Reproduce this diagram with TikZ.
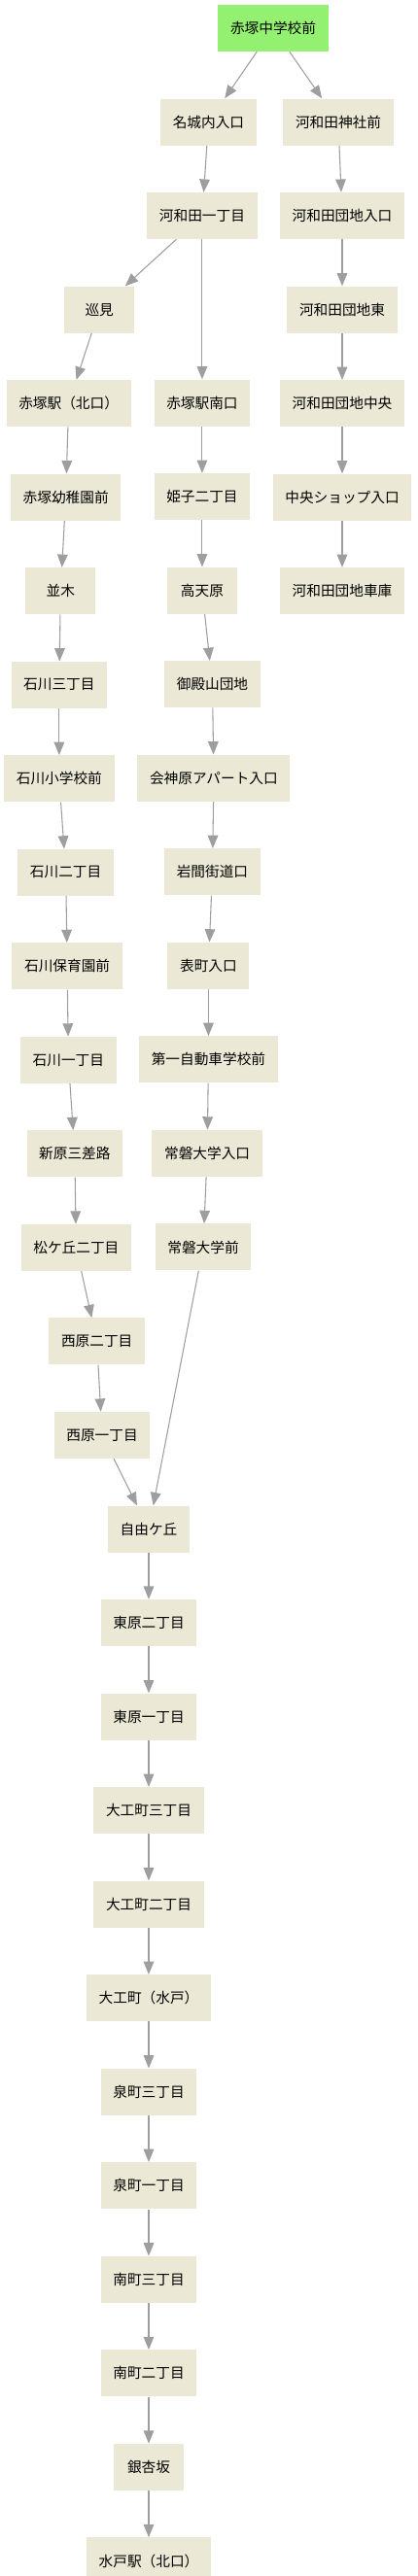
\documentclass[tikz,border=0pt]{standalone}
\usepackage{fontspec}
\newfontfamily\cjk{Noto Sans CJK JP}
\usepackage{xcolor}
\usepackage{tikz}
\usetikzlibrary{arrows.meta,positioning}
\definecolor{stopfill}{RGB}{235,233,213}
\definecolor{startfill}{RGB}{148,240,112}
\definecolor{edgegray}{RGB}{158,158,158}

\begin{document}
\begin{tikzpicture}[
  node distance=36pt,
  busstop/.style={fill=stopfill, minimum height=36pt, minimum width=54pt,
    inner xsep=9.5pt, font=\cjk\fontsize{11}{13}\selectfont},
  origin/.style={busstop, fill=startfill},
  arrow/.style={-{Triangle[length=10pt,width=8pt]}, draw=edgegray, line width=0.8pt}
]
\useasboundingbox (0,0) rectangle (321.75pt,-1988.25pt);
\node[origin] (akatsukachu) at (210.75pt,-21.75pt) {赤塚中学校前};
\node[busstop, below=of akatsukachu, xshift=-49.9pt] (meijyo) {名城内入口};
\node[busstop, below=of akatsukachu, xshift=50.25pt] (jinja) {河和田神社前};
\node[busstop, below=of meijyo, xshift=-4.9pt] (kawawada1) {河和田一丁目};
\node[busstop, below=of jinja, xshift=3pt] (danchiiri) {河和田団地入口};
\node[busstop, below=of kawawada1, xshift=-79.3pt] (junken) {巡見};
\node[busstop, below=of danchiiri] (danchihigashi) {河和田団地東};
\node[busstop, below=of junken, xshift=-23.7pt] (akatsukakita) {赤塚駅（北口）};
\node[busstop, below=108pt of kawawada1] (akatsukaminami) {赤塚駅南口};
\node[busstop, below=of danchihigashi] (danchichuo) {河和田団地中央};
\node[busstop, below=of akatsukakita, xshift=-2.2pt] (youchien) {赤塚幼稚園前};
\node[busstop, below=of akatsukaminami] (himeko) {姫子二丁目};
\node[busstop, below=of danchichuo] (shop) {中央ショップ入口};
\node[busstop, below=of youchien, xshift=-4pt] (namiki) {並木};
\node[busstop, below=of himeko] (takamagahara) {高天原};
\node[busstop, below=of shop] (shako) {河和田団地車庫};
\node[busstop, below=of namiki, xshift=-1.1pt] (ishikawa3) {石川三丁目};
\node[busstop, below=of takamagahara, xshift=7.9pt] (goten) {御殿山団地};
\node[busstop, below=of ishikawa3] (ishikawasho) {石川小学校前};
\node[busstop, below=of goten, xshift=1.1pt] (aigami) {会神原アパート入口};
\node[busstop, below=of ishikawasho, xshift=5.1pt] (ishikawa2) {石川二丁目};
\node[busstop, below=of aigami, xshift=-1.1pt] (iwama) {岩間街道口};
\node[busstop, below=of ishikawa2, xshift=1.1pt] (hoikuen) {石川保育園前};
\node[busstop, below=of iwama, xshift=-3pt] (omote) {表町入口};
\node[busstop, below=of hoikuen, xshift=0.9pt] (ishikawa1) {石川一丁目};
\node[busstop, below=of omote] (jidosha) {第一自動車学校前};
\node[busstop, below=of ishikawa1, xshift=4.9pt] (shinhara) {新原三差路};
\node[busstop, below=of jidosha, xshift=-1pt] (tokiwairi) {常磐大学入口};
\node[busstop, below=of shinhara, xshift=1.1pt] (matsugaoka) {松ケ丘二丁目};
\node[busstop, below=of tokiwairi, xshift=-3.1pt] (tokiwa) {常磐大学前};
\node[busstop, below=of matsugaoka, xshift=16pt] (nishihara2) {西原二丁目};
\node[busstop, below=of nishihara2, xshift=4pt] (nishihara1) {西原一丁目};
\node[busstop, below=of nishihara1, xshift=36pt] (jiyu) {自由ケ丘};
\node[busstop, below=of jiyu] (higashi2) {東原二丁目};
\node[busstop, below=of higashi2] (higashi1) {東原一丁目};
\node[busstop, below=of higashi1] (daiku3) {大工町三丁目};
\node[busstop, below=of daiku3] (daiku2) {大工町二丁目};
\node[busstop, below=of daiku2] (daikumito) {大工町（水戸）};
\node[busstop, below=of daikumito] (izumi3) {泉町三丁目};
\node[busstop, below=of izumi3] (izumi1) {泉町一丁目};
\node[busstop, below=of izumi1] (minami3) {南町三丁目};
\node[busstop, below=of minami3] (minami2) {南町二丁目};
\node[busstop, below=of minami2] (ichou) {銀杏坂};
\node[busstop, below=of ichou] (mitokita) {水戸駅（北口）};
% right branch
\draw[arrow] (akatsukachu) -- (jinja);
\draw[arrow] (jinja) -- (danchiiri);
\draw[arrow] (danchiiri) -- (danchihigashi);
\draw[arrow] (danchihigashi) -- (danchichuo);
\draw[arrow] (danchichuo) -- (shop);
\draw[arrow] (shop) -- (shako);
% main line
\draw[arrow] (akatsukachu) -- (meijyo);
\draw[arrow] (meijyo) -- (kawawada1);
\draw[arrow] (kawawada1) -- (junken);
\draw[arrow] (kawawada1) -- (akatsukaminami);
\draw[arrow] (junken) -- (akatsukakita);
\draw[arrow] (akatsukakita) -- (youchien);
\draw[arrow] (youchien) -- (namiki);
\draw[arrow] (namiki) -- (ishikawa3);
\draw[arrow] (ishikawa3) -- (ishikawasho);
\draw[arrow] (ishikawasho) -- (ishikawa2);
\draw[arrow] (ishikawa2) -- (hoikuen);
\draw[arrow] (hoikuen) -- (ishikawa1);
\draw[arrow] (ishikawa1) -- (shinhara);
\draw[arrow] (shinhara) -- (matsugaoka);
\draw[arrow] (matsugaoka) -- (nishihara2);
\draw[arrow] (nishihara2) -- (nishihara1);
\draw[arrow] (nishihara1) -- (jiyu);
\draw[arrow] (akatsukaminami) -- (himeko);
\draw[arrow] (himeko) -- (takamagahara);
\draw[arrow] (takamagahara) -- (goten);
\draw[arrow] (goten) -- (aigami);
\draw[arrow] (aigami) -- (iwama);
\draw[arrow] (iwama) -- (omote);
\draw[arrow] (omote) -- (jidosha);
\draw[arrow] (jidosha) -- (tokiwairi);
\draw[arrow] (tokiwairi) -- (tokiwa);
\draw[arrow] (tokiwa) -- (jiyu);
% to Mito
\draw[arrow] (jiyu) -- (higashi2);
\draw[arrow] (higashi2) -- (higashi1);
\draw[arrow] (higashi1) -- (daiku3);
\draw[arrow] (daiku3) -- (daiku2);
\draw[arrow] (daiku2) -- (daikumito);
\draw[arrow] (daikumito) -- (izumi3);
\draw[arrow] (izumi3) -- (izumi1);
\draw[arrow] (izumi1) -- (minami3);
\draw[arrow] (minami3) -- (minami2);
\draw[arrow] (minami2) -- (ichou);
\draw[arrow] (ichou) -- (mitokita);
\end{tikzpicture}
\end{document}
